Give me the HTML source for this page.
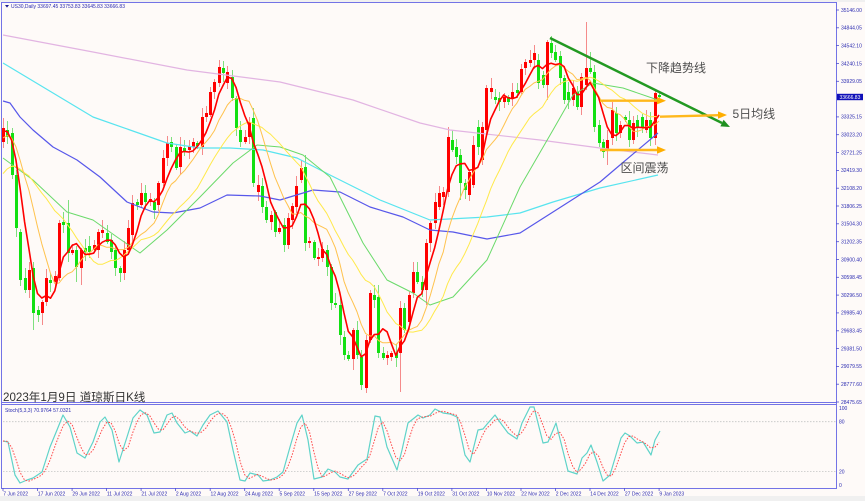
<!DOCTYPE html>
<html><head><meta charset="utf-8">
<style>
html,body{margin:0;padding:0;background:#f0f0f0;width:865px;height:501px;overflow:hidden}
svg{display:block}
.ax{font-family:"Liberation Sans",sans-serif;font-size:5px;fill:#2a2ab0}
.cn{font-family:"Liberation Sans","Noto Sans CJK SC",sans-serif}
</style></head><body>
<svg id="s" width="865" height="501" viewBox="0 0 865 501" xmlns="http://www.w3.org/2000/svg">
<defs>
<clipPath id="cm"><rect x="2" y="3" width="834" height="399"/></clipPath>
<clipPath id="cs"><rect x="2" y="405" width="834" height="83"/></clipPath>
</defs>
<rect x="0" y="0" width="865" height="501" fill="#f0f0f0"/>
<rect x="0" y="2" width="865" height="494" fill="#fefaf8"/>
<g id="main" clip-path="url(#cm)"></g>
<g id="stoch" clip-path="url(#cs)">
<line x1="3" y1="421.7" x2="836" y2="421.7" stroke="#c4c4c4" stroke-width="0.8" stroke-dasharray="1.5,1.5"/>
<line x1="3" y1="471.6" x2="836" y2="471.6" stroke="#c4c4c4" stroke-width="0.8" stroke-dasharray="1.5,1.5"/>
</g>

<!-- frame -->
<g stroke="#7373e6" stroke-width="1" fill="none">
<line x1="1" y1="2.5" x2="837" y2="2.5"/>
<line x1="1.5" y1="2" x2="1.5" y2="489"/>
<line x1="836.5" y1="2" x2="836.5" y2="489"/>
<line x1="1" y1="402.5" x2="837" y2="402.5"/>
<line x1="1" y1="404.5" x2="837" y2="404.5"/>
<line x1="1" y1="488.5" x2="837" y2="488.5"/>
</g>

<!-- header -->
<polygon points="5,5 9,5 7,7.6" fill="#1a1a90"/>
<text class="ax" x="11" y="8" fill="#1a1a90">US30,Daily  33697.45 33753.83 33645.83 33666.83</text>
<text class="ax" x="5" y="412">Stoch(5,3,3) 70.9764 57.0321</text>

<!-- right price axis -->
<g stroke="#5050d0" stroke-width="0.8">
<line x1="836" y1="10" x2="839" y2="10"/><line x1="836" y1="27.8" x2="839" y2="27.8"/><line x1="836" y1="45.6" x2="839" y2="45.6"/><line x1="836" y1="63.5" x2="839" y2="63.5"/><line x1="836" y1="81.3" x2="839" y2="81.3"/><line x1="836" y1="116.9" x2="839" y2="116.9"/><line x1="836" y1="134.7" x2="839" y2="134.7"/><line x1="836" y1="152.6" x2="839" y2="152.6"/><line x1="836" y1="170.4" x2="839" y2="170.4"/><line x1="836" y1="188.2" x2="839" y2="188.2"/><line x1="836" y1="206" x2="839" y2="206"/><line x1="836" y1="223.8" x2="839" y2="223.8"/><line x1="836" y1="241.7" x2="839" y2="241.7"/><line x1="836" y1="259.5" x2="839" y2="259.5"/><line x1="836" y1="277.3" x2="839" y2="277.3"/><line x1="836" y1="295.1" x2="839" y2="295.1"/><line x1="836" y1="312.9" x2="839" y2="312.9"/><line x1="836" y1="330.8" x2="839" y2="330.8"/><line x1="836" y1="348.6" x2="839" y2="348.6"/><line x1="836" y1="366.4" x2="839" y2="366.4"/><line x1="836" y1="384.2" x2="839" y2="384.2"/><line x1="836" y1="402" x2="839" y2="402"/>
</g>
<g class="ax">
<text x="841" y="11.8">35146.00</text>
<text x="841" y="29.6">34844.05</text>
<text x="841" y="47.4">34542.10</text>
<text x="841" y="65.3">34240.15</text>
<text x="841" y="83.1">33929.05</text>
<text x="841" y="118.7">33325.15</text>
<text x="841" y="136.5">33023.20</text>
<text x="841" y="154.4">32721.25</text>
<text x="841" y="172.2">32419.30</text>
<text x="841" y="190.0">32108.20</text>
<text x="841" y="207.8">31806.25</text>
<text x="841" y="225.6">31504.30</text>
<text x="841" y="243.5">31202.35</text>
<text x="841" y="261.3">30900.40</text>
<text x="841" y="279.1">30598.45</text>
<text x="841" y="296.9">30296.50</text>
<text x="841" y="314.7">29985.40</text>
<text x="841" y="332.6">29683.45</text>
<text x="841" y="350.4">29381.50</text>
<text x="841" y="368.2">29079.55</text>
<text x="841" y="386.0">28777.60</text>
<text x="841" y="404.0">28475.65</text>
</g>
<rect x="837" y="93.8" width="26" height="6.4" fill="#1010b8"/>
<text class="ax" x="839.5" y="98.9" style="fill:#ffffff">33666.83</text>

<!-- stoch axis -->
<g class="ax">
<text x="839" y="409.8">100</text>
<text x="839" y="423.6">80</text>
<text x="839" y="473.5">20</text>
<text x="839" y="486.8">0</text>
</g>

<!-- date axis -->
<g stroke="#5050d0" stroke-width="0.8">
<line x1="3" y1="488" x2="3" y2="491"/><line x1="37.5" y1="488" x2="37.5" y2="491"/><line x1="72.1" y1="488" x2="72.1" y2="491"/><line x1="106.6" y1="488" x2="106.6" y2="491"/><line x1="141.1" y1="488" x2="141.1" y2="491"/><line x1="175.6" y1="488" x2="175.6" y2="491"/><line x1="210.2" y1="488" x2="210.2" y2="491"/><line x1="244.7" y1="488" x2="244.7" y2="491"/><line x1="279.2" y1="488" x2="279.2" y2="491"/><line x1="313.8" y1="488" x2="313.8" y2="491"/><line x1="348.3" y1="488" x2="348.3" y2="491"/><line x1="382.8" y1="488" x2="382.8" y2="491"/><line x1="417.4" y1="488" x2="417.4" y2="491"/><line x1="451.9" y1="488" x2="451.9" y2="491"/><line x1="486.4" y1="488" x2="486.4" y2="491"/><line x1="521" y1="488" x2="521" y2="491"/><line x1="555.5" y1="488" x2="555.5" y2="491"/><line x1="590" y1="488" x2="590" y2="491"/><line x1="624.6" y1="488" x2="624.6" y2="491"/><line x1="659.1" y1="488" x2="659.1" y2="491"/>
</g>
<g class="ax">
<text x="3.3" y="495.6">7 Jun 2022</text>
<text x="37.8" y="495.6">17 Jun 2022</text>
<text x="72.4" y="495.6">29 Jun 2022</text>
<text x="106.9" y="495.6">11 Jul 2022</text>
<text x="141.4" y="495.6">21 Jul 2022</text>
<text x="175.9" y="495.6">2 Aug 2022</text>
<text x="210.5" y="495.6">12 Aug 2022</text>
<text x="245" y="495.6">24 Aug 2022</text>
<text x="279.5" y="495.6">5 Sep 2022</text>
<text x="314.1" y="495.6">15 Sep 2022</text>
<text x="348.6" y="495.6">27 Sep 2022</text>
<text x="383.1" y="495.6">7 Oct 2022</text>
<text x="417.7" y="495.6">19 Oct 2022</text>
<text x="452.2" y="495.6">31 Oct 2022</text>
<text x="486.7" y="495.6">10 Nov 2022</text>
<text x="521.3" y="495.6">22 Nov 2022</text>
<text x="555.8" y="495.6">2 Dec 2022</text>
<text x="590.3" y="495.6">14 Dec 2022</text>
<text x="624.9" y="495.6">27 Dec 2022</text>
<text x="659.4" y="495.6">9 Jan 2023</text>
</g>

<!-- annotations -->
<g id="ann">
<line x1="550" y1="38" x2="722" y2="123" stroke="#229922" stroke-width="2.4"/>
<polygon points="730,127 720.4,126.4 723.6,119.8" fill="#1f8f1f"/>
<line x1="600" y1="100.7" x2="658" y2="100.7" stroke="#ffb81c" stroke-width="2.4"/>
<polygon points="657,97 666,100.7 657,104.4" fill="#ffae00"/>
<line x1="660" y1="116.7" x2="719" y2="115.2" stroke="#ffb81c" stroke-width="2.4"/>
<polygon points="718,111.4 727,115 718,118.8" fill="#ffae00"/>
<line x1="600" y1="150" x2="658" y2="150" stroke="#ffb81c" stroke-width="2.4"/>
<polygon points="657,146.3 666,150 657,153.7" fill="#ffae00"/>
<text class="cn" x="646" y="72" font-size="12" fill="#4e4e4e">下降趋势线</text>
<text class="cn" x="732.5" y="118" font-size="12" fill="#4e4e4e">5日均线</text>
<text class="cn" x="620.5" y="172" font-size="12" fill="#4e4e4e">区间震荡</text>
<text class="cn" x="3" y="401" font-size="11.6" fill="#333333">2023年1月9日 道琼斯日K线</text>
</g>
</svg>
<script>
(function(){
var X=function(i){return 3+i*4.316;};
var C=[
[1,128,142],[0,130,137],[0,133,175],[0,175,228],[0,232,280],[0,278,290],[1,270,290],[0,268,313],[0,310,315],[1,302,313],
[1,278,302],[0,280,283],[1,276,282],[1,223,278],[0,222,225],[0,223,253],[1,250,253],[0,250,267],[1,250,268],[0,248,252],
[0,246,252],[1,245,250],[1,232,250],[1,230,233],[0,233,242],[0,240,252],[0,250,268],[0,268,273],[1,250,273],[1,228,250],
[1,203,235],[0,202,205],[1,193,205],[0,193,202],[1,199,202],[0,202,210],[1,183,205],[1,158,183],[1,143,158],[0,142,147],
[0,147,168],[1,147,167],[0,148,152],[1,146,150],[1,142,147],[0,143,146],[1,117,147],[1,113,117],[1,92,115],[1,82,92],
[1,67,83],[0,68,73],[1,72,83],[0,77,98],[0,98,128],[0,130,142],[1,137,142],[1,122,137],[0,118,183],[1,185,192],
[0,186,207],[0,207,220],[1,215,222],[0,212,232],[1,228,232],[0,225,245],[1,218,245],[1,206,220],[1,186,207],[1,168,180],
[0,167,243],[1,241,243],[0,242,258],[1,257,259],[1,249,258],[0,250,267],[0,267,303],[0,303,305],[0,305,335],[0,337,355],
[0,355,359],[1,330,359],[0,330,355],[0,357,385],[1,340,388],[1,293,340],[0,295,300],[0,297,353],[0,353,358],[1,355,358],
[1,353,357],[0,353,358],[1,308,353],[0,308,330],[1,295,322],[1,272,293],[0,272,282],[0,282,290],[1,243,290],[1,223,243],
[1,202,223],[1,193,207],[1,192,197],[1,137,192],[0,140,150],[0,147,157],[0,155,183],[0,183,190],[1,172,195],[1,145,185],
[0,127,147],[1,127,160],[1,88,130],[1,88,92],[0,97,100],[0,98,102],[1,97,102],[0,97,102],[1,92,98],[0,90,93],
[1,69,92],[1,62,68],[1,60,63],[1,53,60],[0,60,83],[0,75,85],[1,42,85],[0,43,53],[0,52,60],[0,56,78],
[0,78,100],[0,92,100],[1,88,100],[0,92,107],[1,77,107],[1,68,85],[0,68,72],[0,72,127],[0,125,143],[0,142,152],
[1,140,150],[1,110,138],[0,113,133],[1,125,133],[0,117,120],[0,120,140],[1,123,140],[0,120,128],[0,117,127],[1,120,130],
[0,120,138],[1,93,138],[0,95,97]];
var hi={0:118,2:128,15:200,20:236,29:220,30:195,37:150,50:60,51:61,53:70,58:108,70:155,87:285,96:262,103:127,104:130,120:64,127:36,135:22,136:52,151:90};
var lo={0:148,7:330,8:322,9:325,15:262,17:282,18:285,26:276,28:280,46:155,76:310,78:345,81:370,83:390,84:393,92:392,98:305,106:200,112:135,126:100,137:132,139:158,140:165,141:145,151:145};
var g='';
C.forEach(function(c,i){
 var d=c[0],t=c[1],b=c[2];
 var h=(hi[i]!==undefined)?hi[i]:t-(2+((i*7)%9));
 var l=(lo[i]!==undefined)?lo[i]:b+(2+((i*5)%8));
 var cx=Math.round(X(i));
 var wc=d?'#f58a8a':'#7ee07e';
 var bc=d?'#ff0000':'#12e012';
 g+='<rect x="'+cx+'" y="'+h+'" width="1" height="'+(l-h)+'" fill="'+wc+'"/>';
 g+='<rect x="'+(cx-1)+'" y="'+t+'" width="3" height="'+Math.max(1,b-t)+'" fill="'+bc+'"/>';
});
function pl(pts,col,w,extra){return '<polyline fill="none" stroke="'+col+'" stroke-width="'+w+'" stroke-linejoin="round" '+(extra||'')+' points="'+pts.map(function(p){return p[0].toFixed(1)+','+p[1].toFixed(1);}).join(' ')+'"/>';}
var pink=[[3,35],[93,52],[187,70],[280,82],[353,100],[420,123],[450,130],[540,140],[600,148],[658,155]];
var cyan=[[3,63],[93,117],[167,143],[200,148],[230,148],[263,150],[297,158],[330,175],[380,200],[430,220],[487,217],[520,213],[553,202],[600,188],[658,175]];
var blue=[[3,101],[10,103],[20,117],[33,130],[53,147],[77,160],[100,177],[127,202],[153,212],[173,213],[200,208],[227,195],[260,196],[280,200],[313,190],[340,192],[370,207],[403,217],[430,230],[453,232],[487,239],[520,233],[553,212],[600,182],[620,165],[658,133]];
var green=[[3,158],[33,180],[67,212],[93,220],[117,237],[140,253],[167,230],[200,197],[233,163],[257,145],[280,147],[303,155],[330,177],[363,243],[387,280],[413,293],[430,305],[453,297],[487,260],[520,187],[553,130],[573,95],[593,83],[623,88],[658,100]];
var closes=C.map(function(c){return c[0]?c[1]:c[2];});
var pad=[230,228,225,222,218,212,205,196,185,172,160,150,142,138,135,133,132,130,131];
var all=pad.concat(closes);
function ma(n){var pts=[];for(var i=0;i<closes.length;i++){var s=0;for(var k=0;k<n;k++)s+=all[pad.length+i-k];pts.push([X(i),s/n]);}return pts;}
var lines='';
lines+=pl(pink,'#e2b4e2',1.2);
lines+=pl(cyan,'#58e4ef',1.2);
lines+=pl(blue,'#5757ea',1.2);
lines+=pl(green,'#6ada6a',1);
lines+=pl(ma(20),'#ffe94a',1);
lines+=pl(ma(10),'#ffc24d',1);
lines+=pl(ma(5),'#ff0000',1.6);
document.getElementById('main').innerHTML=g+lines;
var K=[[3,441],[8,442],[15,475],[20,483],[27,480],[33,478],[42,472],[50,447],[57,430],[63,415],[70,427],[77,453],[85,458],[93,442],[100,422],[105,417],[112,430],[119,462],[127,437],[133,418],[140,410],[147,415],[154,433],[160,432],[167,415],[172,413],[177,423],[185,433],[190,431],[197,436],[203,425],[210,415],[218,411],[227,422],[233,450],[240,480],[245,481],[250,473],[258,475],[263,481],[270,480],[277,477],[283,472],[290,447],[297,423],[302,415],[308,440],[314,479],[322,477],[328,469],[335,472],[340,477],[348,479],[358,465],[367,459],[375,416],[380,417],[387,447],[397,470],[402,450],[408,423],[418,415],[423,418],[430,415],[435,409],[443,413],[450,414],[457,417],[465,455],[470,462],[478,430],[483,429],[488,423],[495,415],[502,425],[508,433],[517,439],[522,423],[530,407],[534,407],[543,443],[548,442],[556,423],[568,471],[577,474],[582,458],[587,453],[591,445],[597,462],[603,481],[610,475],[621,438],[625,433],[630,436],[637,443],[643,442],[651,455],[655,440],[660,431]];
function interp(pts,x){for(var j=0;j<pts.length-1;j++){if(x>=pts[j][0]&&x<=pts[j+1][0]){var t=(x-pts[j][0])/(pts[j+1][0]-pts[j][0]);return pts[j][1]+t*(pts[j+1][1]-pts[j][1]);}}return x<pts[0][0]?pts[0][1]:pts[pts.length-1][1];}
var ks=[];for(var i=0;i<153;i++)ks.push(interp(K,X(i)));
var D=ks.map(function(v,i){var a=ks.slice(Math.max(0,i-2),i+1);var s=0;a.forEach(function(q){s+=q;});return [X(i),s/a.length];});
var st=document.getElementById('stoch');
st.insertAdjacentHTML('beforeend',pl(K,'#5fd3c9',1.2)+pl(D,'#ff4d4d',1,'stroke-dasharray="1.6,1.4"'));
})();
</script>
</body></html>
